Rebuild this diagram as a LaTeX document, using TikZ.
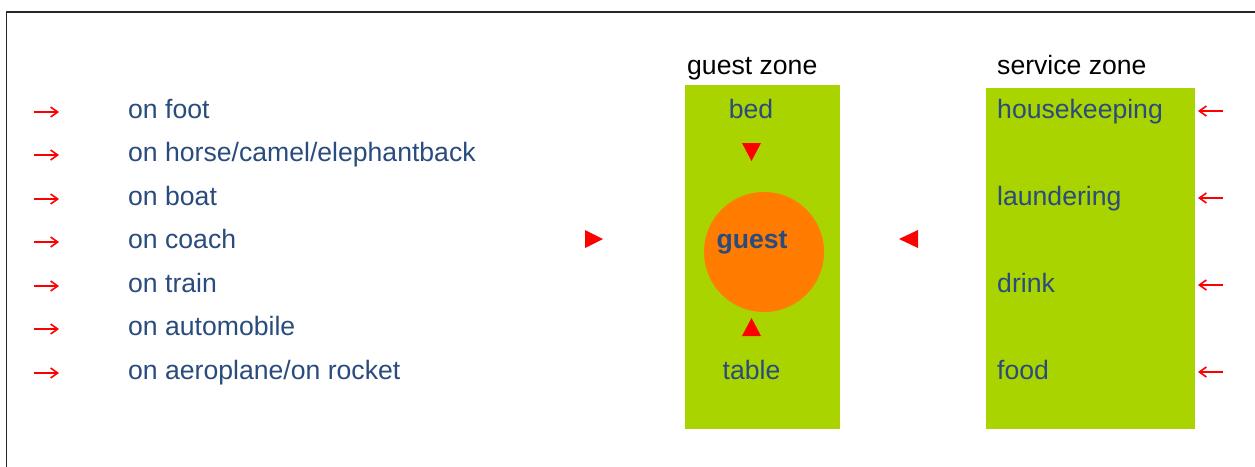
\documentclass[tikz,border=0pt]{standalone}
\usepackage{fontspec}
\setmainfont{Liberation Sans}
\usetikzlibrary{arrows.meta}
\definecolor{zonegreen}{RGB}{170,212,0}
\definecolor{guestorange}{RGB}{255,124,0}
\definecolor{textblue}{RGB}{41,75,125}
\tikzset{
  lbl/.style={inner sep=0pt, text=textblue, font=\fontsize{26.6}{30}\selectfont},
  ttl/.style={lbl, text=black},
  zone/.style={fill=zonegreen, draw=none, inner sep=0pt, anchor=north west},
  entry/.style={red, line width=1.6pt, -{Straight Barb[length=7pt,width=10pt]}},
  pointer/.style={fill=red}
}
\begin{document}
\begin{tikzpicture}[x=1pt, y=-1pt, line join=round]
  \useasboundingbox (0,0) rectangle (1255,466);
  \clip (0,0) rectangle (1255,466);
  \draw[line width=1.6pt, black!85] (6.5,12) rectangle (1290,500);
  % ways of arriving
  \foreach \t [count=\i from 0, evaluate=\i as \ay using {int(112+43.5*\i)}] in {on foot, on horse/camel/elephantback, on boat, on coach, on train, on automobile, on aeroplane/on rocket} {
    \node[lbl, anchor=base west] (way\i) at (128,118+43.5*\i) {\t};
    \coordinate (wa\i) at (34,\ay);
    \coordinate (wb\i) at (59,\ay);
    \draw[entry] (wa\i) -- (wb\i);
  }
  \fill[pointer] (585,230) -- (585,248) -- (603,239) -- cycle;
  % guest zone
  \node[zone, minimum width=155pt, minimum height=344pt] (guestzone) at (685,85) {};
  \node[ttl, anchor=base west] (guesttitle) at (687,74) {guest zone};
  \node[lbl, anchor=base] (bed) at (751,118) {bed};
  \node[lbl, anchor=base] (table) at (751.5,379) {table};
  \node[circle, fill=guestorange, minimum size=120pt, inner sep=0pt] (guest) at (764,252) {};
  \node[lbl, anchor=base, font=\fontsize{26.6}{30}\selectfont\bfseries] (guestname) at (752,248.5) {guest};
  \fill[pointer] (742,143) -- (761,143) -- (751.5,161) -- cycle;
  \fill[pointer] (742,336) -- (761,336) -- (751.5,318) -- cycle;
  % service zone
  \fill[pointer] (918,230) -- (918,248) -- (899,239) -- cycle;
  \node[zone, minimum width=209pt, minimum height=341pt] (servicezone) at (986,88) {};
  \node[ttl, anchor=base west] (servicetitle) at (997,74) {service zone};
  \foreach \t [count=\i from 0] in {housekeeping, laundering, drink, food} {
    \node[lbl, anchor=base west] (serv\i) at (997,118+87*\i) {\t};
    \coordinate (sa\i) at (1223,111+87*\i);
    \coordinate (sb\i) at (1198,111+87*\i);
    \draw[entry] (sa\i) -- (sb\i);
  }
\end{tikzpicture}
\end{document}
